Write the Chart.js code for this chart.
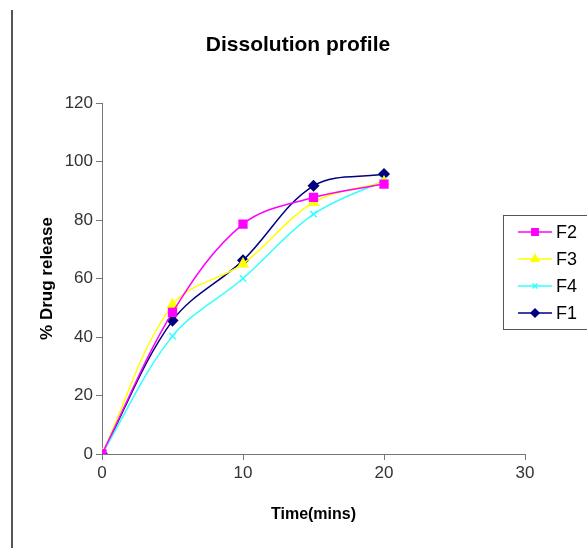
<!DOCTYPE html>
<html>
<head>
<meta charset="utf-8">
<script src="https://cdn.jsdelivr.net/npm/chart.js@4/dist/chart.umd.min.js"></script>
<style>
    html, body { margin: 0; padding: 0; background: #fff; }
    #wrap { position: relative; width: 587px; height: 548px; }
    #edge { position: absolute; left: 11px; top: 10px; bottom: 0; border-left: 2px solid #555; }
</style>
</head>
<body>
<div id="wrap">
    <canvas id="grafico" width="587" height="548"></canvas>
    <div id="edge"></div>
</div>
<script>
const tempos = [0, 5, 10, 15, 20];
const nomes = ['F2', 'F3', 'F4', 'F1'];
const f2 = [0, 48.4, 78.6, 87.7, 92.3];
const f3 = [0, 51.0, 65.0, 86.0, 93.0];
const f4 = [0, 40.3, 60.0, 82.0, 93.5];
const f1 = [0, 45.6, 66.2, 91.7, 95.7];
const ticksX = [0, 10, 20, 30];
const ticksY = [0, 20, 40, 60, 80, 100, 120];
const titulo = 'Dissolution profile';

const fonte = '"Liberation Sans", Arial, sans-serif';
const estilos = [
    { cor: '#ff00ff', ponto: 'rect', raio: 5.5 },
    { cor: '#ffff00', ponto: 'triangle', raio: 5.5 },
    { cor: '#33ffff', ponto: 'crossRot', raio: 4.5 },
    { cor: '#000080', ponto: 'rectRot', raio: 5 }
];
const series = [f2, f3, f4, f1];

// titulo e legenda com moldura, linha + marcador como no Excel
const legendaPlugin = {
    id: 'legendaBox',
    afterDraw(chart) {
        const c = chart.ctx;
        c.save();
        c.fillStyle = '#000';
        c.font = 'bold 21px ' + fonte;
        c.textAlign = 'center';
        c.textBaseline = 'middle';
        c.fillText(titulo, 298, 45);

        c.textAlign = 'left';
        c.strokeStyle = '#555';
        c.lineWidth = 1;
        c.strokeRect(503.5, 215.5, 90, 114);
        chart.data.datasets.forEach((ds, i) => {
            const y = 232 + i * 27;
            c.strokeStyle = ds.borderColor;
            c.fillStyle = ds.borderColor;
            c.lineWidth = 1.5;
            c.beginPath();
            c.moveTo(518, y);
            c.lineTo(552, y);
            c.stroke();
            Chart.helpers.drawPoint(c, {
                pointStyle: ds.pointStyle, radius: ds.pointRadius - 1, rotation: 0, borderWidth: 1.5
            }, 535, y);
            c.fillStyle = '#000';
            c.font = '18px ' + fonte;
            c.fillText(ds.label, 556, y + 1);
        });
        c.restore();
    }
};

const ctx = document.getElementById('grafico').getContext('2d');
new Chart(ctx, {
    type: 'line',
    data: {
        datasets: nomes.map((nome, i) => ({
            label: nome,
            data: tempos.map((t, j) => ({ x: t, y: series[i][j] })),
            borderColor: estilos[i].cor,
            backgroundColor: estilos[i].cor,
            pointStyle: estilos[i].ponto,
            pointRadius: estilos[i].raio,
            pointBorderWidth: 1.5,
            borderWidth: 1.5,
            tension: 0.35,
            fill: false
        }))
    },
    plugins: [legendaPlugin],
    options: {
        responsive: false,
        animation: false,
        layout: { padding: { left: 33, right: 62, top: 103, bottom: 20 } },
        plugins: {
            legend: { display: false },
            tooltip: { enabled: false },
            title: { display: false }
        },
        scales: {
            x: {
                type: 'linear',
                min: 0,
                max: 30,
                afterBuildTicks: s => { s.ticks = ticksX.map(v => ({ value: v })); },
                afterFit: s => { s.height = 74; },
                grid: { drawOnChartArea: false, drawTicks: true, tickLength: 6, color: '#777' },
                border: { color: '#777', width: 1 },
                ticks: { color: '#333', padding: 3, font: { family: fonte, size: 17 } },
                title: {
                    display: true,
                    text: 'Time(mins)',
                    color: '#000',
                    font: { family: fonte, size: 16, weight: 'bold' }
                }
            },
            y: {
                min: 0,
                max: 120,
                afterBuildTicks: s => { s.ticks = ticksY.map(v => ({ value: v })); },
                afterFit: s => { s.width = 69; },
                grid: { drawOnChartArea: false, drawTicks: true, tickLength: 6, color: '#777' },
                border: { color: '#777', width: 1 },
                ticks: { color: '#333', padding: 3, font: { family: fonte, size: 17 } },
                title: {
                    display: true,
                    text: '% Drug release',
                    color: '#000',
                    font: { family: fonte, size: 17, weight: 'bold' }
                }
            }
        }
    }
});
</script>
</body>
</html>
